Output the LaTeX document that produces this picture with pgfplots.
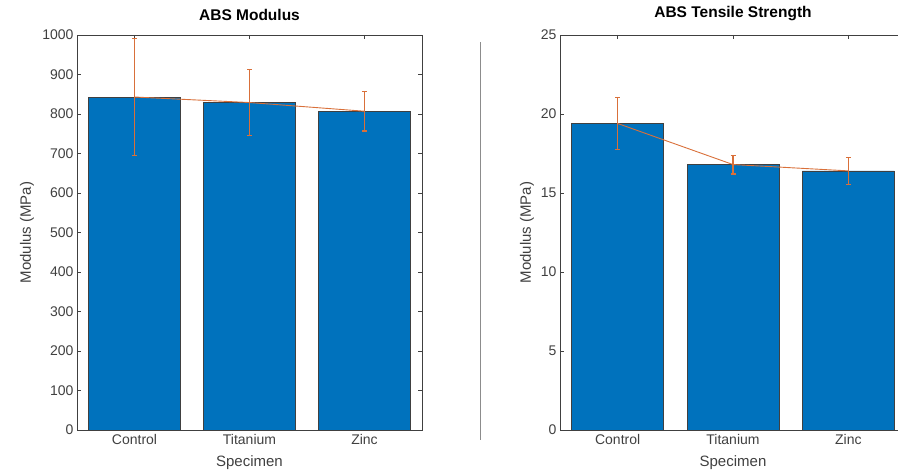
\documentclass[border=0pt]{standalone}
\usepackage{pgfplots}
\pgfplotsset{compat=1.18}
\usepackage{fontspec}
\setmainfont{Liberation Sans}

\definecolor{barblue}{HTML}{0072BD}
\definecolor{errorange}{HTML}{D9703A}
\definecolor{axgray}{HTML}{404040}

% Means and standard deviations
\pgfplotstableread{
x  mean  err
1  843   149
2  829   83
3  807   50
}\modulus
\pgfplotstableread{
x  mean  err
1  19.4  1.65
2  16.8  0.6
3  16.4  0.85
}\tensile

\pgfplotsset{
  matlabbar/.style={
    scale only axis,
    set layers,
    height=395pt,
    xmin=0.5, xmax=3.5,
    xtick={1,2,3},
    xticklabels={Control,Titanium,Zinc},
    tick align=inside,
    major tick length=4pt,
    axis line style={axgray, line width=0.6pt},
    tick style={axgray, line width=0.6pt},
    ticklabel style={font=\fontsize{14}{16}\selectfont, text=axgray},
    /pgf/number format/assume math mode=true,
    /pgf/number format/1000 sep={},
    title style={font=\bfseries\fontsize{15.5}{18}\selectfont, yshift=5pt},
    label style={font=\fontsize{15}{18}\selectfont, text=axgray},
    xlabel={Specimen},
    ylabel={Modulus (MPa)},
    xlabel style={at={(axis description cs:0.5,0)}, anchor=center, yshift=-33pt},
    xticklabel style={yshift=-1pt},
    enlargelimits=false,
    clip=false,
  },
  meanbars/.style={ybar, bar width=92pt, fill=barblue, draw=black!75, line width=0.5pt},
  meanline/.style={on layer=axis foreground, draw=errorange, line width=0.9pt, mark=none,
    error bars/.cd, y dir=both, y explicit,
    error bar style={draw=errorange, line width=1.1pt},
    error mark options={draw=errorange, line width=1.1pt, mark size=2.5pt, rotate=90}},
}

\begin{document}
\begin{tikzpicture}[x=1pt,y=1pt]

\begin{axis}[matlabbar,
  at={(77pt,43pt)}, anchor=south west,
  width=345pt,
  ymin=0, ymax=1000,
  ytick={0,100,...,1000},
  title={ABS Modulus},
  ylabel style={at={(axis description cs:0,0.5)}, anchor=center, yshift=50pt},
]
\addplot[meanbars] table[x=x, y=mean] {\modulus};
\addplot[meanline] table[x=x, y=mean, y error=err] {\modulus};
\end{axis}

\begin{axis}[matlabbar,
  at={(560pt,43pt)}, anchor=south west,
  width=346pt,
  ymin=0, ymax=25,
  ytick={0,5,...,25},
  title={ABS Tensile Strength},
  ylabel style={at={(axis description cs:0,0.5)}, anchor=center, yshift=33pt},
]
\addplot[meanbars] table[x=x, y=mean] {\tensile};
\addplot[meanline] table[x=x, y=mean, y error=err] {\tensile};
\end{axis}

% divider between the two panels
\draw[black!45, line width=1pt] (480pt,33pt) -- (480pt,431pt);

\pgfresetboundingbox
\useasboundingbox (0pt,0pt) rectangle (898pt,473pt);
\end{tikzpicture}
\end{document}
